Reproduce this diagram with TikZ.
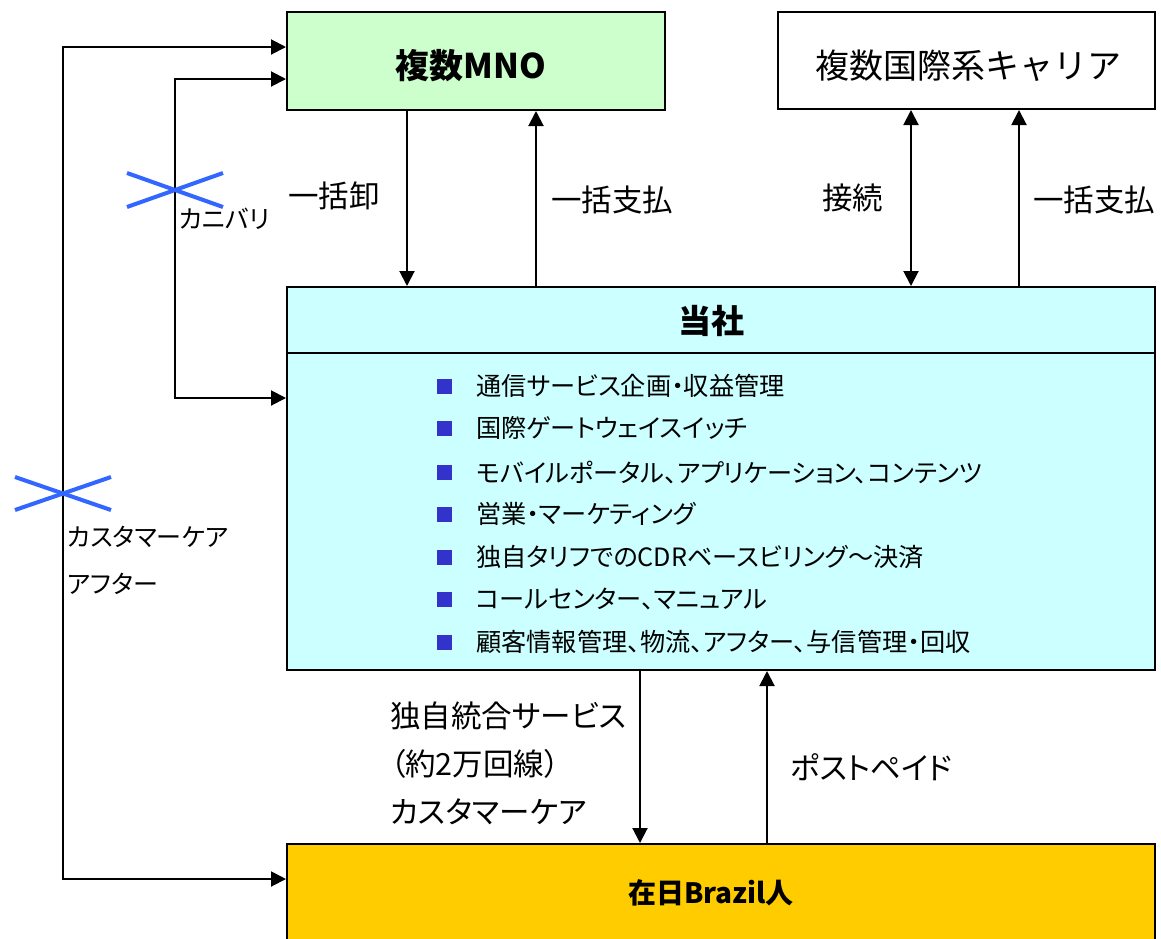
\documentclass[tikz,border=0pt]{standalone}
\usepackage{fontspec}
\setmainfont{Noto Sans CJK JP}[CharacterWidth=AlternateProportional]
\newfontfamily\fwfont{Noto Sans CJK JP}
\usetikzlibrary{arrows.meta}
\definecolor{mnogreen}{RGB}{204,255,204}
\definecolor{toshacyan}{RGB}{204,255,255}
\definecolor{brazilyellow}{RGB}{255,204,0}
\definecolor{bulletblue}{RGB}{51,51,204}
\definecolor{crossblue}{RGB}{51,102,255}
\begin{document}
\begin{tikzpicture}[x=1pt,y=-1pt,
  boxnode/.style={draw,line width=2pt,inner sep=0pt},
  lblbig/.style={inner sep=0pt,anchor=west,font=\fontsize{30.5}{36}\selectfont},
  lblsmall/.style={inner sep=0pt,anchor=west,font=\fontsize{25}{30}\selectfont},
  itemtext/.style={inner sep=0pt,anchor=west,font=\fontsize{25.2}{30}\selectfont},
  bulletsq/.style={fill=bulletblue,minimum size=15pt,inner sep=0pt},
  boxtitle/.style={inner sep=0pt,font=\fontsize{33}{40}\selectfont\bfseries},
  arr/.style={line width=2pt,-{Triangle[length=15pt,width=15pt]}},
  darr/.style={line width=2pt,{Triangle[length=15pt,width=15pt]}-{Triangle[length=15pt,width=15pt]}},
  xmark/.style={crossblue,line width=4pt}]
\useasboundingbox (0,0) rectangle (1161,938);

% boxes
\node[boxnode,fill=mnogreen,minimum width=378pt,minimum height=98pt] (mno) at (476,61) {};
\node[boxtitle,font=\fontsize{34}{40}\selectfont\bfseries] (mnotext) at (471,66) {複数MNO};
\node[boxnode,fill=white,minimum width=377pt,minimum height=97pt] (carrier) at (966.5,60.5) {};
\node[inner sep=0pt,font=\fwfont\fontsize{34}{40}\selectfont] (carriertext) at (968,66) {複数国際系キャリア};
\node[boxnode,fill=toshacyan,minimum width=868pt,minimum height=383pt] (tosha) at (721,478.5) {};
\coordinate (divy) at (0,353);
\draw[line width=2pt] (tosha.west |- divy) -- (tosha.east |- divy);
\node[boxtitle] (toshatext) at (711,321) {当社};
\node[boxnode,fill=brazilyellow,minimum width=868pt,minimum height=106pt] (brazil) at (721,897) {};
\node[inner sep=0pt,font=\fontsize{28}{34}\selectfont\bfseries] (braziltext) at (711,893) {在日Brazil人};

% bullet list
\node[bulletsq] (b1) at (444.5,386) {}; \node[itemtext] (t1) at (476,386) {通信サービス企画・収益管理};
\node[bulletsq] (b2) at (444.5,428) {}; \node[itemtext] (t2) at (476,428) {国際ゲートウェイスイッチ};
\node[bulletsq] (b3) at (444.5,472) {}; \node[itemtext] (t3) at (476,472) {モバイルポータル、アプリケーション、コンテンツ};
\node[bulletsq] (b4) at (444.5,514) {}; \node[itemtext] (t4) at (476,514) {営業・マーケティング};
\node[bulletsq] (b5) at (444.5,557) {}; \node[itemtext] (t5) at (476,557) {独自タリフでのCDRベースビリング～決済};
\node[bulletsq] (b6) at (444.5,599) {}; \node[itemtext] (t6) at (476,599) {コールセンター、マニュアル};
\node[bulletsq] (b7) at (444.5,642) {}; \node[itemtext] (t7) at (476,642) {顧客情報管理、物流、アフター、与信管理・回収};

% vertical connectors
\coordinate (xa) at (407,0);
\coordinate (xb) at (536,0);
\coordinate (xc) at (911,0);
\coordinate (xd) at (1019,0);
\coordinate (xe) at (640,0);
\coordinate (xf) at (767,0);
\draw[arr] (mno.south -| xa) -- (tosha.north -| xa);
\draw[arr] (tosha.north -| xb) -- (mno.south -| xb);
\draw[darr] (tosha.north -| xc) -- (carrier.south -| xc);
\draw[arr] (tosha.north -| xd) -- (carrier.south -| xd);
\draw[arr] (tosha.south -| xe) -- (brazil.north -| xe);
\draw[arr] (brazil.north -| xf) -- (tosha.south -| xf);

% left loops
\coordinate (ya) at (0,47);
\coordinate (yb) at (0,79);
\coordinate (yc) at (0,398);
\coordinate (yd) at (0,879);
\coordinate (xl) at (63,0);
\coordinate (xm) at (175,0);
\draw[darr] (mno.west |- ya) -| (xl |- yd) -- (brazil.west |- yd);
\draw[darr] (mno.west |- yb) -| (xm |- yc) -- (tosha.west |- yc);

% crosses
\draw[xmark] (127,173) -- (223,207);
\draw[xmark] (127,207) -- (223,173);
\draw[xmark] (15,477) -- (111,510);
\draw[xmark] (15,510) -- (111,477);

% labels
\node[lblbig] (l1) at (288,196) {一括卸};
\node[lblbig] (l2) at (551,200) {一括支払};
\node[lblbig] (l3) at (822,198) {接続};
\node[lblbig] (l4) at (1033,200) {一括支払};
\node[lblsmall] (l5) at (179,219) {カニバリ};
\node[lblsmall] (l6) at (67,537) {カスタマーケア};
\node[lblsmall] (l7) at (67,584) {アフター};
\node[lblbig] (l8) at (390,716) {独自統合サービス};
\node[lblbig] (l9) at (390,764) {（約2万回線）};
\node[lblbig] (l10) at (390,812) {カスタマーケア};
\node[lblbig] (l11) at (790,767) {ポストペイド};
\end{tikzpicture}
\end{document}
